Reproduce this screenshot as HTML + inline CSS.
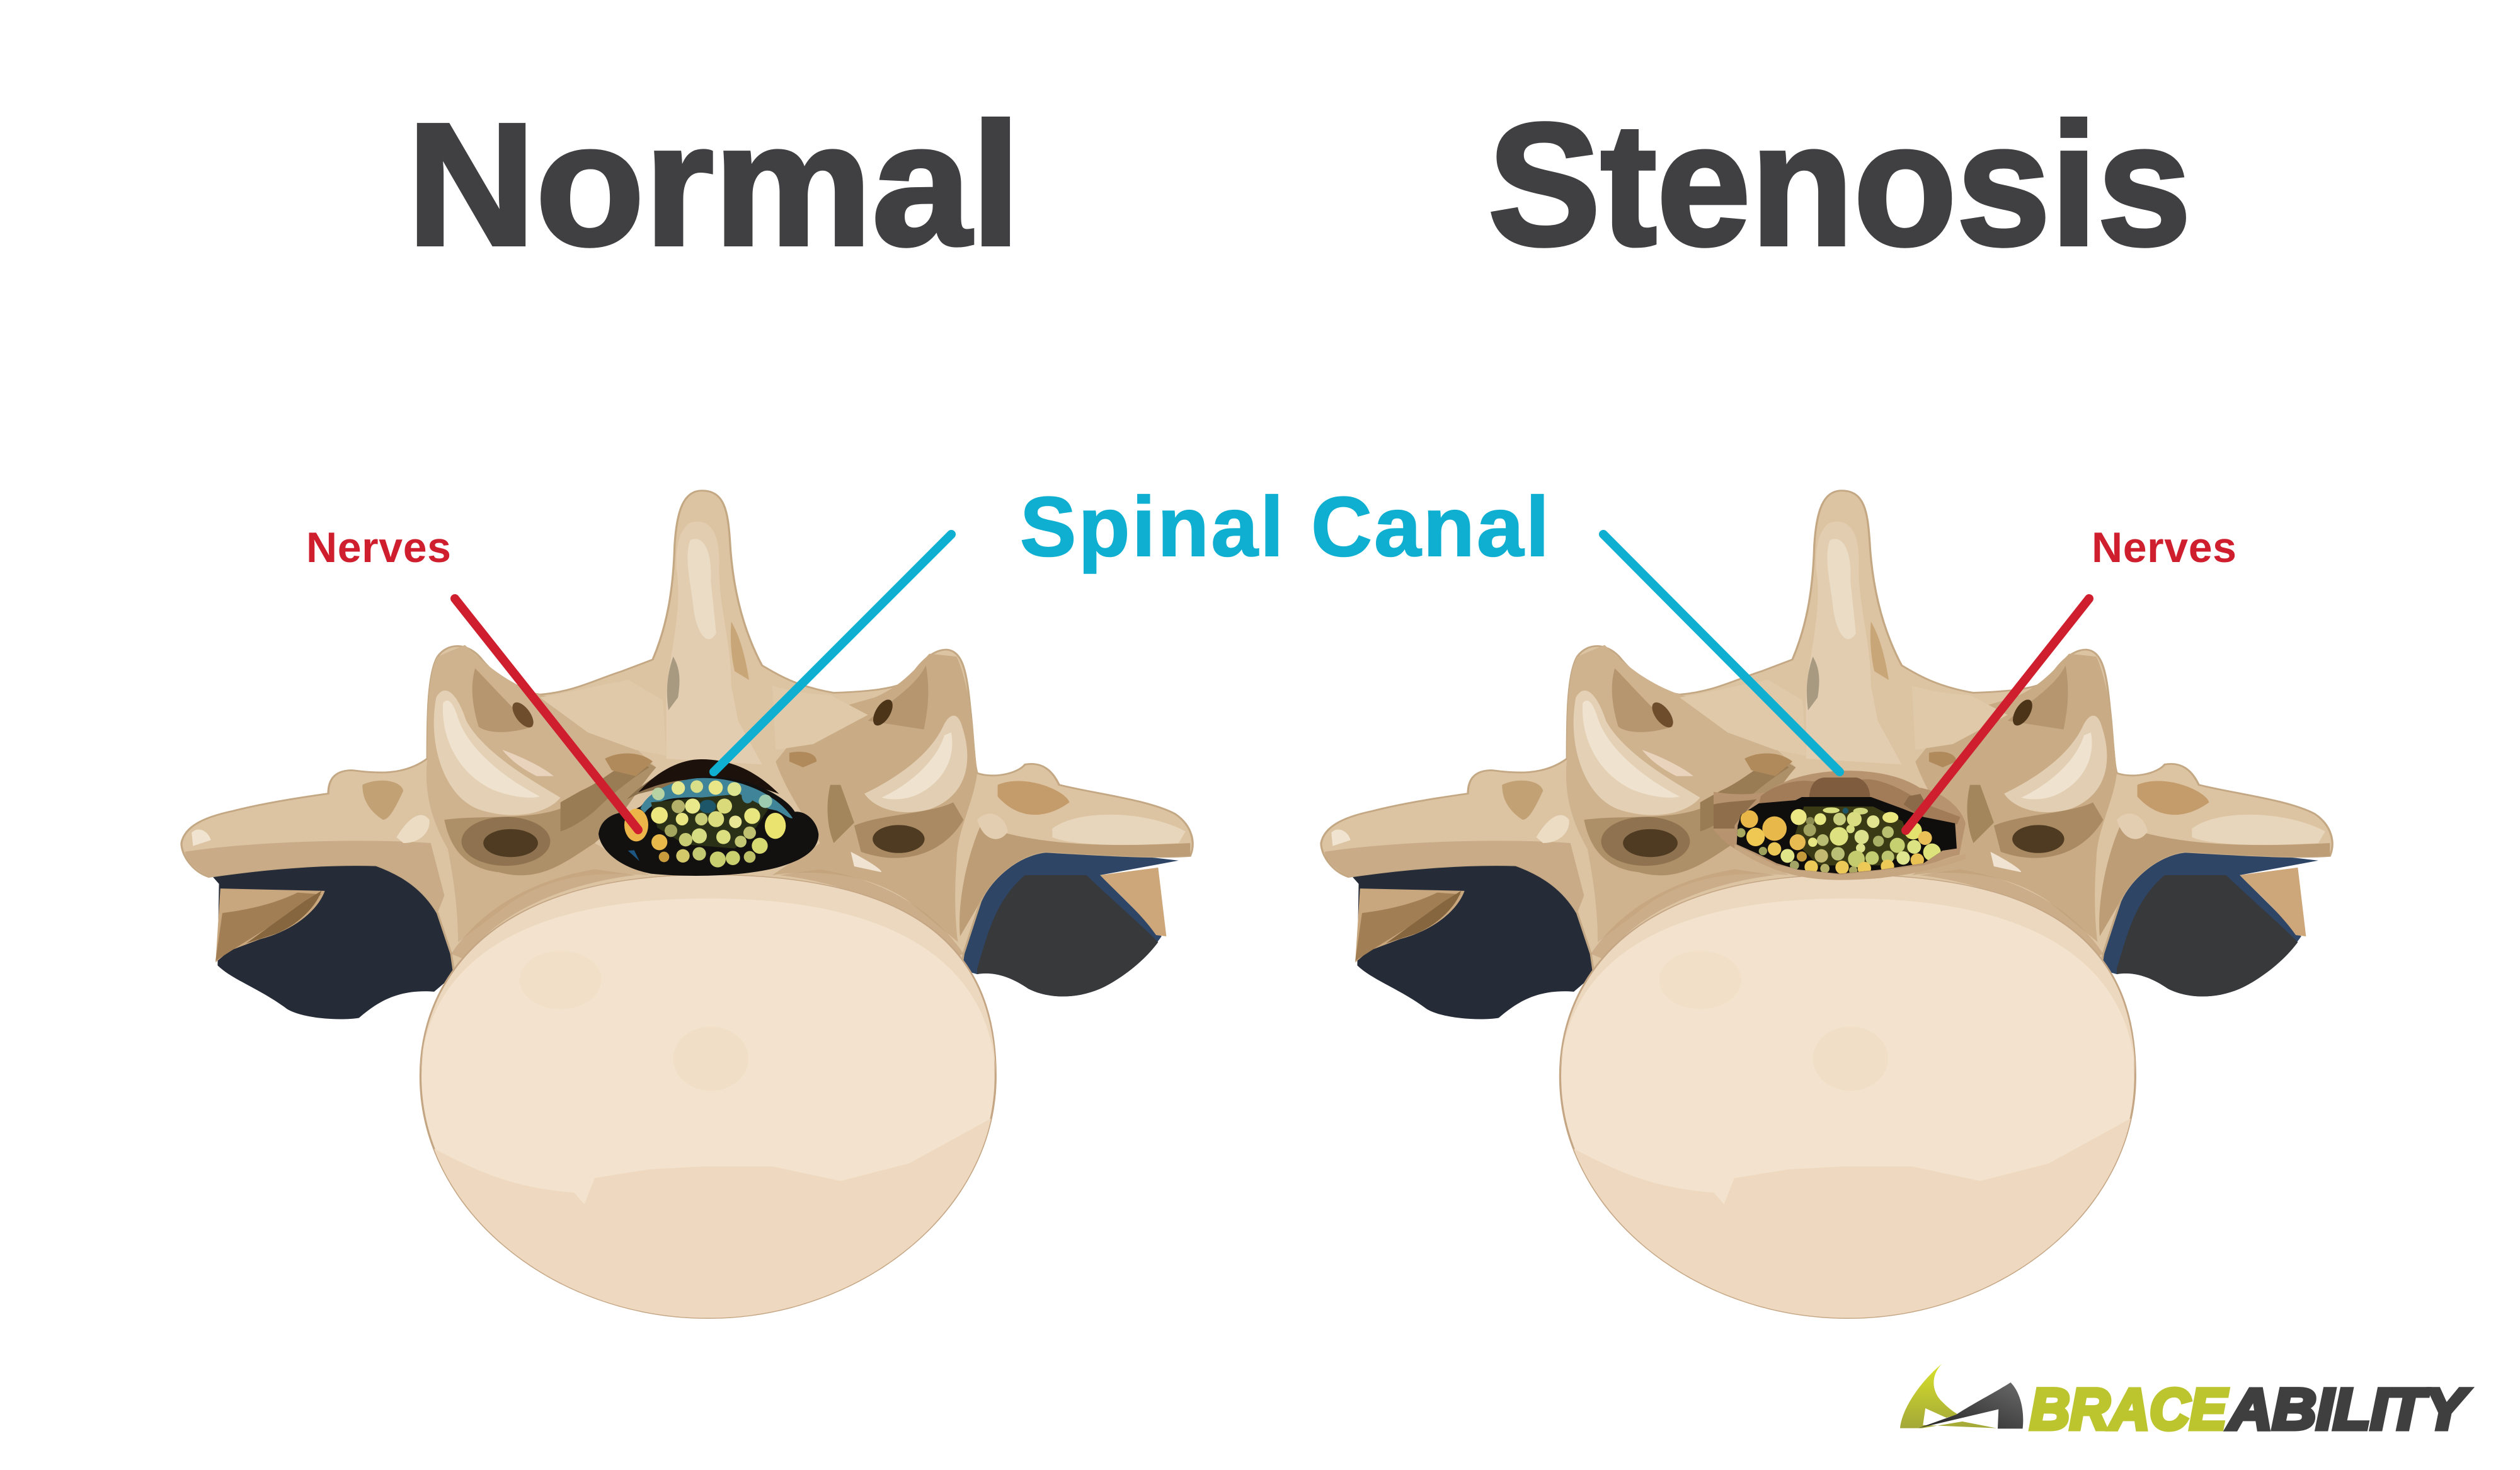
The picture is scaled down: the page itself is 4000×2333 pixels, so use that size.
<!DOCTYPE html>
<html><head><meta charset="utf-8"><style>html,body{margin:0;padding:0;background:#fff}svg{display:block}text{font-family:"Liberation Sans",sans-serif;font-weight:700}</style></head><body>
<svg xmlns="http://www.w3.org/2000/svg" width="4000" height="2333" viewBox="0 0 4000 2333">
<defs>
<linearGradient id="lg" x1="0" y1="0" x2="0" y2="1"><stop offset="0" stop-color="#d9e22a"/><stop offset="1" stop-color="#a3a838"/></linearGradient>
<linearGradient id="dg" x1="0" y1="1" x2="1" y2="0"><stop offset="0" stop-color="#222"/><stop offset="1" stop-color="#6a6a6a"/></linearGradient>
<clipPath id="bc"><path d="M806,745C1170,745 1227,930 1227,1090C1227,1320 1030,1505 806,1505C580,1505 385,1320 385,1090C385,940 470,745 806,745Z"/></clipPath>
<clipPath id="cs"><path d="M110,420L115,330L130,280L215,225L390,210L420,195L750,195L900,250L1000,290L1150,320L1158,440L1090,450L1000,510L800,540L600,560L400,540L300,510L200,460Z"/></clipPath>
<g id="v">
<!-- left wing: dark base, tan lobe on top -->
<path d="M75,740L330,720L450,800L450,900L405,945C350,940 320,965 295,990C270,995 215,992 190,975C150,940 110,925 88,900L90,760Z" fill="#262b38"/>
<path d="M92,768L245,772C235,805 200,840 150,855L105,875L85,895Z" fill="#c8a67e"/>
<path d="M95,810L85,892L125,862L240,778L205,775C170,795 130,805 95,810Z" fill="#a27e55"/>
<path d="M240,772C232,800 205,830 175,845L130,862L215,790Z" fill="#86663f"/>
<!-- right wing -->
<path d="M1170,905L1200,690L1310,695L1495,720L1380,745L1470,850C1440,900 1400,930 1380,940C1340,960 1300,955 1275,940C1250,920 1225,910 1200,915Z" fill="#2e4566"/>
<path d="M1200,905C1215,850 1225,790 1270,745L1360,745C1400,790 1440,830 1465,860C1440,900 1400,930 1380,940C1340,960 1300,955 1275,940C1250,920 1225,910 1200,915Z" fill="#38393b"/>
<path d="M1380,745L1465,732L1477,850L1462,848C1440,810 1400,770 1380,745Z" fill="#cda67a"/>
<!-- main bone -->
<path d="M797,85C830,85 835,120 838,170C842,260 860,330 885,385C900,395 930,420 990,432C1040,430 1085,425 1100,410C1115,380 1135,358 1155,358C1180,360 1185,400 1190,460C1195,510 1195,550 1200,570C1225,580 1260,570 1270,555C1295,550 1310,565 1320,590C1370,605 1450,615 1490,640C1515,660 1520,690 1512,712C1470,716 1400,712 1300,705C1260,710 1220,750 1205,790L1180,880L1170,960L440,960L430,880L410,810C390,770 360,745 320,728C240,725 150,735 75,748C50,738 35,710 35,690C40,660 70,645 110,635C160,620 220,610 250,605C250,580 260,565 285,565C320,570 360,575 395,545C395,480 395,400 410,370C425,345 455,345 475,375C500,410 530,430 560,435C610,430 640,410 680,395L725,375C745,320 755,260 757,180C760,120 770,85 797,85Z" fill="#dcc4a3" stroke="#c4a884" stroke-width="3"/>
<path d="M40,705C120,690 280,680 400,690L420,780L410,810C390,770 360,745 320,728C240,725 150,735 75,748C55,735 42,720 40,705Z" fill="#c9ac87"/>
<path d="M1205,660C1300,700 1420,695 1512,690L1512,712C1470,716 1400,712 1300,705C1260,710 1220,750 1200,800L1175,850C1170,780 1190,700 1205,660Z" fill="#bd9d75"/>
<path d="M395,545C390,600 400,650 425,700C440,790 440,840 440,860L520,790C590,740 650,740 720,745L640,690C680,650 700,600 730,560L640,460L560,435C500,410 470,370 450,350L410,370C395,400 395,480 395,545Z" fill="#cfb38e"/>
<path d="M1200,570C1195,620 1170,670 1170,720C1165,790 1170,850 1172,860L1100,790C1040,740 960,735 900,745L970,690C950,650 920,600 905,550L960,470L1050,440C1090,420 1110,390 1130,365L1170,370C1190,420 1195,510 1200,570Z" fill="#c9ac86"/>
<path d="M560,440C610,430 640,420 690,410L740,445L745,540L700,530L630,500Z" fill="#dfc9a9"/>
<path d="M900,420C930,430 960,435 985,436L1040,470L960,520L905,530Z" fill="#dfc9a9"/>
<path d="M780,140C810,130 825,160 822,220C822,280 840,350 840,420L850,480L885,555L745,545L745,450C745,380 770,300 760,220C758,180 765,150 780,140Z" fill="#e3cdb0"/>
<path d="M780,170C800,160 812,190 810,240L818,330C805,355 790,330 785,290C782,250 770,200 780,170Z" fill="#ebdcc6"/>
<path d="M755,370C746,400 744,430 748,462L762,440C766,410 765,390 755,370Z" fill="#a89a80"/>
<path d="M840,310C855,340 862,380 866,410L845,395C840,370 838,340 840,310Z" fill="#c9a677"/>
<path d="M465,390C490,420 520,460 550,490C510,505 480,500 470,490C460,450 458,420 465,390Z" fill="#b6966f"/>
<ellipse cx="535" cy="470" rx="11" ry="24" transform="rotate(-30 535 470)" fill="#6d4d2c"/>
<path d="M408,440C395,520 420,610 470,632C520,652 570,640 590,612C560,590 480,540 452,480C438,430 420,415 408,440Z" fill="#e4d0b5"/>
<path d="M418,450C415,510 440,570 490,598C515,610 545,615 560,610C510,580 455,530 440,475C432,445 424,440 418,450Z" fill="#efe2cf"/>
<path d="M420,650C480,640 560,655 610,620L700,540L730,560C700,600 680,650 640,690C600,720 560,760 500,740C460,735 430,710 420,650Z" fill="#ae9068"/>
<path d="M590,620L620,600C650,585 670,560 700,545L720,560C700,575 670,600 640,635C625,650 605,665 590,670Z" fill="#9a7c54"/>
<ellipse cx="510" cy="687" rx="65" ry="42" fill="#8f7350"/>
<ellipse cx="517" cy="690" rx="40" ry="24" fill="#4f3a22"/>
<path d="M505,530C530,540 565,560 580,575L555,575C530,560 515,545 505,530Z" fill="#e9d3bd"/>
<path d="M655,545C680,530 710,535 725,550L700,575L665,565Z" fill="#b18a5c"/>
<path d="M925,535C945,530 965,535 965,550L945,560L925,550Z" fill="#b18a5c"/>
<path d="M1125,385C1110,420 1080,440 1040,480L1122,495C1130,450 1130,420 1125,385Z" fill="#b6966f"/>
<ellipse cx="1062" cy="466" rx="11" ry="24" transform="rotate(25 1062 466)" fill="#4c3419"/>
<path d="M1178,490C1195,550 1185,610 1130,632C1090,645 1050,632 1035,605C1080,580 1130,540 1150,490C1160,465 1172,465 1178,490Z" fill="#e2ceb2"/>
<path d="M1162,500C1170,550 1145,590 1110,608C1095,615 1075,617 1060,612C1100,590 1140,550 1152,505Z" fill="#efe2cf"/>
<path d="M1020,660C1060,640 1130,640 1165,620L1180,650C1150,710 1090,730 1030,705Z" fill="#a98a62"/>
<path d="M985,590L1000,590L1020,655L990,690C980,660 978,625 985,590Z" fill="#a4865c"/>
<ellipse cx="1085" cy="683" rx="38" ry="24" fill="#4f3a22"/>
<path d="M300,590C320,578 355,580 360,600C350,625 340,650 330,650C310,635 300,615 300,590Z" fill="#c2a175"/>
<path d="M50,672C60,660 75,670 78,685L52,695Z" fill="#f0e3d0"/>
<path d="M350,680C365,650 385,630 398,650C400,670 385,690 360,690Z" fill="#ecdcc4"/>
<path d="M1230,590C1270,570 1330,600 1335,620C1300,650 1260,650 1230,610Z" fill="#c49b6a"/>
<path d="M1310,665C1350,630 1450,635 1505,670L1495,690C1420,695 1340,695 1310,680Z" fill="#e8d6bc"/>
<path d="M1200,650C1215,630 1240,640 1245,670C1235,690 1210,690 1200,650Z" fill="#e4ceb2"/>
<path d="M1015,705C1040,720 1060,735 1060,740L1020,730Z" fill="#f1e3d2"/>
<!-- pedicle shade under body edge -->
<path d="M430,880C470,810 540,755 640,735L700,745C590,760 490,815 450,890Z" fill="#bf9f78" opacity=".6"/>
<path d="M1180,880C1140,810 1070,755 970,735L910,745C1020,760 1120,815 1160,890Z" fill="#bf9f78" opacity=".6"/>
<!-- body -->
<path d="M806,745C1170,745 1227,930 1227,1090C1227,1320 1030,1505 806,1505C580,1505 385,1320 385,1090C385,940 470,745 806,745Z" fill="#f3e2cd" stroke="#c4a684" stroke-width="3"/>
<g clip-path="url(#bc)">
<path d="M380,1200C450,1240 500,1280 610,1290L625,1310L640,1265L720,1250L800,1245L900,1245L1000,1270L1100,1240L1240,1150L1240,1520L380,1520Z" fill="#eed8bf"/>
<path d="M385,1100C385,950 470,785 806,785C1140,785 1227,950 1227,1100C1227,930 1170,745 806,745C470,745 385,940 385,1100Z" fill="#ecd8bf"/>
<ellipse cx="590" cy="925" rx="60" ry="50" fill="#f1dfc8"/>
<ellipse cx="810" cy="1060" rx="55" ry="55" fill="#f0dec7"/>
</g>
</g>
</defs>
<rect width="4000" height="2333" fill="#fff"/>
<text x="646" y="388" font-size="276" fill="#403f41" stroke="#403f41" stroke-width="6" textLength="974" lengthAdjust="spacingAndGlyphs">Normal</text>
<text x="2362" y="388" font-size="276" fill="#403f41" stroke="#403f41" stroke-width="6" textLength="1116" lengthAdjust="spacingAndGlyphs">Stenosis</text>
<text x="1619" y="882" font-size="134" fill="#0eafd0" stroke="#0eafd0" stroke-width="2" textLength="840" lengthAdjust="spacing">Spinal Canal</text>
<text x="486" y="892" font-size="68" fill="#cf1f2e" textLength="230" lengthAdjust="spacing">Nerves</text>
<text x="3320" y="892" font-size="68" fill="#cf1f2e" textLength="230" lengthAdjust="spacing">Nerves</text>

<g transform="translate(250,700) scale(1.0842,0.9247)"><use href="#v"/></g>
<g transform="translate(2059,700) scale(1.0842,0.9247)"><use href="#v"/></g>

<!-- normal canal -->
<g transform="translate(900,1180) scale(.3333)">
<path d="M285,265C340,210 400,170 450,140L640,170L500,200L340,240Z" fill="#8a6f4c"/>
<path d="M340,232C430,130 540,75 640,75C780,75 900,130 1010,240C900,200 780,170 640,170C500,170 420,200 340,232Z" fill="#1d120b"/>
<path d="M150,430C160,360 220,325 300,325L350,300C450,190 600,150 720,158C880,170 1040,250 1085,325C1140,320 1190,370 1198,430C1200,490 1150,540 1050,575C900,632 600,640 400,620C250,590 160,510 150,430Z" fill="#131110"/>
<path d="M350,310C370,250 470,180 620,165C800,155 990,230 1075,355C1060,360 1040,340 1000,320C960,310 900,300 830,290C720,260 620,250 520,260C460,265 400,290 370,330Z" fill="#3f8498"/>
<path d="M400,280L820,240L960,310L900,400L800,500L560,480L430,400Z" fill="#2b3116"/>
<ellipse cx="670" cy="300" rx="40" ry="32" fill="#1d5668"/><ellipse cx="860" cy="250" rx="28" ry="35" fill="#3f8498"/>
<path d="M290,510L320,508L345,560Z" fill="#1d5680"/>
<g>
<ellipse cx="330" cy="388" rx="57" ry="78" fill="#ebb549"/><circle cx="440" cy="342" r="40" fill="#ece77e"/><circle cx="435" cy="240" r="30" fill="#b7d2a3"/><circle cx="530" cy="212" r="32" fill="#e5e78f"/><circle cx="618" cy="205" r="30" fill="#d9de88"/><circle cx="708" cy="210" r="34" fill="#eae788"/><circle cx="797" cy="217" r="33" fill="#dde48f"/><circle cx="945" cy="275" r="32" fill="#9ccbb0"/><circle cx="530" cy="300" r="32" fill="#b3b06a"/><circle cx="598" cy="298" r="36" fill="#e9e98c"/><circle cx="750" cy="298" r="36" fill="#dada7a"/><circle cx="548" cy="360" r="30" fill="#e8e582"/><circle cx="640" cy="360" r="30" fill="#c9cd78"/><circle cx="710" cy="360" r="38" fill="#dbdc7d"/><circle cx="802" cy="373" r="30" fill="#e9e795"/><circle cx="882" cy="345" r="38" fill="#e8e67f"/><ellipse cx="992" cy="392" rx="50" ry="62" fill="#eae36f"/><circle cx="495" cy="415" r="30" fill="#a3a45e"/><circle cx="440" cy="470" r="38" fill="#e8b84b"/><circle cx="462" cy="540" r="25" fill="#c89c3c"/><circle cx="565" cy="458" r="32" fill="#c6ca72"/><circle cx="630" cy="440" r="36" fill="#d6dc82"/><circle cx="745" cy="445" r="34" fill="#dbdf80"/><circle cx="870" cy="425" r="30" fill="#bfc070"/><circle cx="827" cy="467" r="28" fill="#c3c672"/><circle cx="918" cy="487" r="38" fill="#d6d971"/><circle cx="552" cy="535" r="32" fill="#d3c96b"/><circle cx="630" cy="525" r="32" fill="#c2c772"/><circle cx="718" cy="552" r="38" fill="#c9ce6e"/><circle cx="790" cy="545" r="34" fill="#c9cf6f"/><circle cx="870" cy="540" r="28" fill="#bdc066"/>
</g>
</g>

<!-- stenosis canal -->
<g transform="translate(2720,1200) scale(.3333)">
<path d="M0,170C120,190 200,180 260,170C400,50 800,30 980,150C1100,170 1180,250 1200,320L1170,470C1100,480 1000,540 800,580C600,600 400,570 250,510C150,470 70,440 0,350Z" fill="#b7946f"/>
<path d="M225,190C300,130 400,110 470,120L740,110C830,120 920,170 1000,225L1175,290L1160,325L1000,290L900,250L750,195L420,195L390,210L215,230Z" fill="#a27c59"/>
<path d="M455,195C460,140 480,105 530,102L680,102C720,110 745,150 745,195Z" fill="#7e5c3d"/>
<path d="M930,190L985,180L1010,225L960,270L905,230Z" fill="#8b6a49"/>
<path d="M0,230C60,215 150,215 205,205L130,290L100,330L100,345L0,345Z" fill="#8f6e4c"/>
<path d="M100,420L300,520L600,565L1000,520L1200,465L1200,490C1000,560 800,590 600,590C400,590 250,540 100,440Z" fill="#c6a681"/>
<path d="M110,420L115,330L130,280L215,225L390,210L420,195L750,195L900,250L1000,290L1150,320L1158,440L1090,450L1000,510L800,540L600,560L400,540L300,510L200,460Z" fill="#100e0c"/>
<g clip-path="url(#cs)">
<path d="M430,240L760,240L900,310L950,450L800,520L500,520L380,400Z" fill="#3a3a14"/>
<ellipse cx="560" cy="258" rx="40" ry="14" fill="#d9de80"/><ellipse cx="700" cy="262" rx="35" ry="16" fill="#cfd67c"/><circle cx="628" cy="260" r="14" fill="#1d5668"/>
<circle cx="170" cy="300" r="42" fill="#e9b648"/><circle cx="290" cy="345" r="58" fill="#e8b84a"/><circle cx="130" cy="365" r="22" fill="#a9a85f"/><circle cx="200" cy="385" r="44" fill="#eec853"/><circle cx="405" cy="290" r="38" fill="#ebe784"/><circle cx="460" cy="310" r="20" fill="#8b8c52"/><circle cx="508" cy="300" r="28" fill="#e5e684"/><circle cx="600" cy="300" r="30" fill="#c9cf7e"/><circle cx="670" cy="300" r="35" fill="#d9dc80"/><circle cx="760" cy="312" r="30" fill="#e2e490"/><ellipse cx="842" cy="292" rx="38" ry="26" fill="#e9e67f"/><circle cx="458" cy="352" r="30" fill="#a1a25f"/><circle cx="400" cy="410" r="38" fill="#e8bb52"/><circle cx="520" cy="400" r="28" fill="#b7bc72"/><circle cx="472" cy="410" r="22" fill="#e5e584"/><circle cx="597" cy="382" r="44" fill="#dde17f"/><circle cx="652" cy="347" r="20" fill="#d7dc80"/><circle cx="705" cy="385" r="34" fill="#dbe08c"/><circle cx="830" cy="362" r="28" fill="#b9c070"/><circle cx="785" cy="405" r="26" fill="#a9b066"/><circle cx="700" cy="438" r="22" fill="#dde08a"/><circle cx="875" cy="425" r="36" fill="#c6d070"/><circle cx="955" cy="432" r="33" fill="#dce383"/><circle cx="950" cy="355" r="42" fill="#e4e26f"/><circle cx="1007" cy="390" r="33" fill="#e9bf58"/><circle cx="1040" cy="458" r="42" fill="#dde37a"/><circle cx="903" cy="485" r="32" fill="#dfe58f"/><circle cx="970" cy="495" r="32" fill="#e9c253"/><circle cx="290" cy="442" r="32" fill="#e9c656"/><circle cx="235" cy="452" r="20" fill="#9da05c"/><circle cx="352" cy="475" r="33" fill="#e0e58a"/><circle cx="420" cy="478" r="24" fill="#c49a3a"/><circle cx="513" cy="475" r="32" fill="#c3b970"/><circle cx="592" cy="465" r="32" fill="#b9c076"/><circle cx="680" cy="490" r="40" fill="#c3cb6e"/><circle cx="755" cy="485" r="32" fill="#c4cc72"/><circle cx="830" cy="480" r="30" fill="#bcc46f"/><circle cx="385" cy="520" r="22" fill="#a2a566"/><circle cx="465" cy="528" r="32" fill="#edca57"/><circle cx="530" cy="535" r="22" fill="#b5b168"/><circle cx="612" cy="530" r="32" fill="#edc957"/><circle cx="665" cy="545" r="20" fill="#a9a760"/><circle cx="718" cy="535" r="32" fill="#edca57"/><circle cx="828" cy="525" r="32" fill="#edca57"/>
</g>
</g>

<g fill="none" stroke-linecap="round" stroke-width="14">
<line x1="722" y1="950" x2="1013" y2="1317" stroke="#cf1f2e"/>
<line x1="1510" y1="848" x2="1133" y2="1225" stroke="#0eafd0"/>
<line x1="2545" y1="848" x2="2920" y2="1225" stroke="#0eafd0"/>
<line x1="3316" y1="950" x2="3025" y2="1318" stroke="#cf1f2e"/>
</g>

<g transform="translate(3000,2150) scale(.638,.3333)">
<path d="M130,42C100,100 105,170 125,215C140,245 155,270 170,285L140,300L88,255L82,335L265,350L180,318L80,350L25,350C30,250 80,120 130,42Z" fill="url(#lg)"/>
<path d="M300,132C270,170 200,240 165,285L70,350L270,260L268,352L330,352C335,270 325,180 300,132Z" fill="url(#dg)"/>
</g>
<text x="3222" y="2268" font-size="92" font-style="italic" fill="#bcc52e" stroke="#bcc52e" stroke-width="7" textLength="312" lengthAdjust="spacingAndGlyphs">BRACE</text>
<text x="3537" y="2268" font-size="92" font-style="italic" fill="#3f3f3f" stroke="#3f3f3f" stroke-width="7" textLength="376" lengthAdjust="spacingAndGlyphs">ABILITY</text>
</svg>
</body></html>
